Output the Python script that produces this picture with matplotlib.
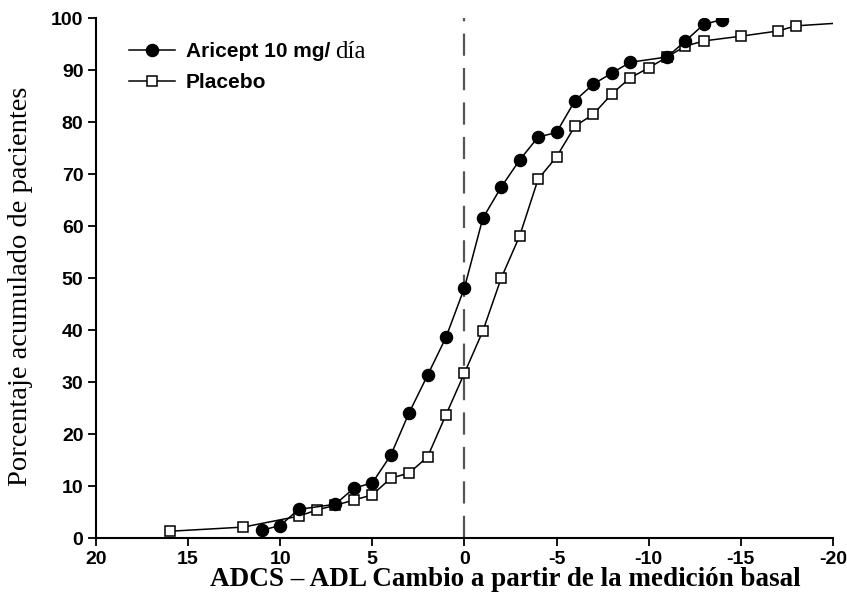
import matplotlib
matplotlib.use("Agg")
import matplotlib.pyplot as plt

# ── data ─────────────────────────────────────────────────
aricept_x = [11, 10, 9, 7, 6, 5, 4, 3, 2, 1, 0, -1, -2, -3, -4, -5, -6, -7, -8, -9, -11, -12, -13, -14]
aricept_y = [1.5, 2.4, 5.5, 6.5, 9.6, 10.6, 15.9, 24.1, 31.3, 38.6, 48.1, 61.5, 67.5, 72.7, 77.1, 78.0,
             84.1, 87.3, 89.4, 91.5, 92.5, 95.6, 98.8, 99.7]

placebo_x = [16, 12, 9, 8, 7, 6, 5, 4, 3, 2, 1, 0, -1, -2, -3, -4, -5, -6, -7, -8, -9, -10, -11, -12,
             -13, -15, -17, -18, -20.2]
placebo_y = [1.3, 2.1, 4.2, 5.4, 6.3, 7.3, 8.3, 11.5, 12.5, 15.6, 23.7, 31.7, 39.8, 50.0, 58.1, 69.0,
             73.3, 79.2, 81.5, 85.4, 88.5, 90.4, 92.5, 94.6, 95.6, 96.5, 97.5, 98.5, 99.0]

x_ticks = [20, 15, 10, 5, 0, -5, -10, -15, -20]
y_ticks = [0, 10, 20, 30, 40, 50, 60, 70, 80, 90, 100]

SANS = "Liberation Sans"
SERIF = "Liberation Serif"

# ── plot ─────────────────────────────────────────────────
fig = plt.figure(figsize=(8.47, 5.97), dpi=100)
ax = fig.add_axes([0.1133, 0.0988, 0.870, 0.871])

ax.axvline(0, color="#555555", lw=1.6, ls=(0, (10, 5.5)), zorder=1)

ax.plot(placebo_x, placebo_y, color="black", lw=1.1, marker="s", ms=6.6,
        mfc="white", mec="black", mew=1.1, markevery=list(range(len(placebo_x) - 1)),
        label="Placebo", zorder=2)
ax.plot(aricept_x, aricept_y, color="black", lw=1.1, marker="o", ms=8.7,
        mfc="black", mec="black", label="Aricept 10 mg/", zorder=3)

ax.set_xlim(20, -20)
ax.set_ylim(0, 100)
ax.set_xticks(x_ticks)
ax.set_yticks(y_ticks)
ax.set_xticklabels([str(v) for v in x_ticks], fontfamily=SANS, fontweight="bold", fontsize=14)
ax.set_yticklabels([str(v) for v in y_ticks], fontfamily=SANS, fontweight="bold", fontsize=14)
ax.tick_params(direction="out", length=6, width=1.3, pad=3)

for s in ["top", "right"]:
    ax.spines[s].set_visible(False)
for s in ["left", "bottom"]:
    ax.spines[s].set_linewidth(1.5)

ax.set_ylabel("Porcentaje acumulado de pacientes", fontfamily=SERIF, fontsize=20.5)
ax.yaxis.set_label_coords(-0.085, 0.485)
ax.set_xlabel("ADCS – ADL Cambio a partir de la medición basal", fontfamily=SERIF,
              fontweight="bold", fontsize=19.5)
ax.xaxis.set_label_coords(0.555, -0.055)

handles, labels = ax.get_legend_handles_labels()
leg = ax.legend(handles[::-1], labels[::-1], loc="upper left", bbox_to_anchor=(0.019, 0.99),
                frameon=False, handlelength=2.2, handletextpad=0.55, labelspacing=0.6,
                prop={"family": SANS, "weight": "bold", "size": 15})

fig.canvas.draw()
bb = leg.get_texts()[0].get_window_extent()
fx, fy = fig.transFigure.inverted().transform((bb.x1, bb.y0))
fig.text(fx + 0.006, fy - 0.004, "día", fontfamily=SERIF, fontsize=18, ha="left", va="bottom")

plt.savefig("out.png", dpi=100)
